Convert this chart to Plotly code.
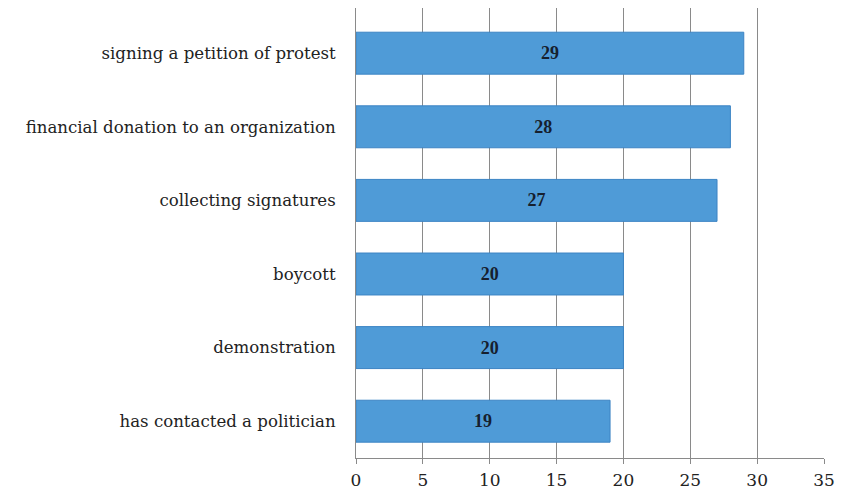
import plotly.graph_objects as go

categories = ["has contacted a politician", "demonstration", "boycott",
              "collecting signatures", "financial donation to an organization",
              "signing a petition of protest"]
values = [19, 20, 20, 27, 28, 29]
x_ticks = [0, 5, 10, 15, 20, 25, 30, 35]

fig = go.Figure()
fig.add_trace(go.Bar(
    y=list(range(len(categories))), x=values, orientation="h",
    width=0.57,
    marker=dict(color="#4f9bd7", line=dict(color="#3c84c4", width=1)),
    text=[str(v) for v in values], textposition="inside", insidetextanchor="middle",
    textfont=dict(family="Liberation Serif", size=18, color="#16202e", weight="bold"),
    textangle=0,
))
fig.update_layout(
    width=852, height=497,
    margin=dict(l=348, r=36, t=0, b=47, pad=0),
    plot_bgcolor="white", paper_bgcolor="white",
    showlegend=False,
    font=dict(family="DejaVu Serif", size=16, color="#222"),
)
fig.update_xaxes(
    range=[0, 35], tickvals=x_ticks, ticktext=[str(t) for t in x_ticks],
    showgrid=True, gridcolor="#8a8a8a", gridwidth=1,
    showline=True, linecolor="#8a8a8a", linewidth=1,
    ticks="outside", ticklen=5, tickcolor="#8a8a8a",
    ticklabelstandoff=2,
    tickfont=dict(family="DejaVu Serif", size=17, color="#222"),
    zeroline=False, automargin=False,
)
fig.update_yaxes(
    range=[-0.5, 5.614],
    tickvals=list(range(len(categories))), ticktext=categories,
    showgrid=False, showline=True, linecolor="#8a8a8a", linewidth=1,
    ticks="", ticklabelstandoff=16,
    tickfont=dict(family="DejaVu Serif", size=16.6, color="#222"),
    zeroline=False, automargin=False,
)
fig.write_html("out.html")
